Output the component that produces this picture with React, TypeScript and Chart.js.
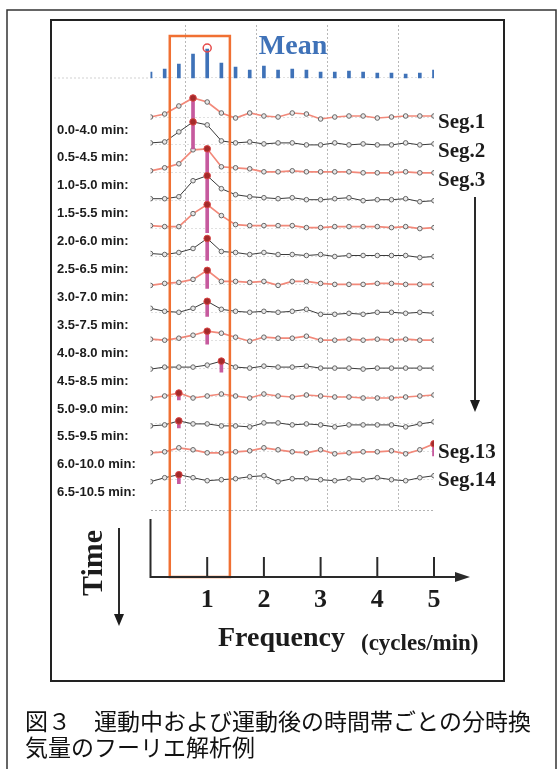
import React, { useEffect, useRef } from "react";
import { Chart, registerables } from "chart.js";

Chart.register(...registerables);

// ---------- data ----------
const FREQUENCIES = [0, 0.25, 0.5, 0.75, 1, 1.25, 1.5, 1.75, 2, 2.25, 2.5, 2.75, 3, 3.25, 3.5, 3.75, 4, 4.25, 4.5, 4.75, 5];
const MEAN_POWER = [6, 9, 14, 24, 29, 15, 11, 8, 12, 8, 9, 8, 6, 6, 7, 6, 5, 5, 4, 5, 8];

const SEG1 = [0, 3, 11, 19, 15, 4, -1, 4, 1, 0, 4, 3, -2, 0, 1, 1, -1, 0, 1, 1, 1];
const SEG2 = [2, 3, 13, 23, 20, 4, 2, 3, 1, 2, 2, 0, 0, 2, 0, 1, 0, 0, 2, 0, 1];
const SEG3 = [2, 5, 9, 23, 24, 6, 5, 4, 1, 1, 2, 1, 1, 1, 1, 0, 0, 0, 1, 0, 0];
const SEG4 = [2, 2, 4, 20, 25, 12, 6, 4, 3, 2, 3, 1, 1, 2, 3, 0, 1, 1, 2, -1, 0];
const SEG5 = [3, 2, 2, 15, 24, 13, 4, 3, 3, 3, 3, 1, 1, 2, 2, 2, 2, 1, 2, 0, 1];
const SEG6 = [3, 2, 4, 8, 18, 5, 4, 2, 4, 2, 2, 1, 2, 0, 1, 1, 1, 1, 1, -1, 0];
const SEG7 = [-1, 1, 2, 5, 14, 3, 3, 2, 3, -1, 3, 3, 1, 0, 0, 0, 1, 1, 0, 0, 0];
const SEG8 = [4, 1, 0, 4, 11, 3, 1, 0, 1, 0, 1, 3, -2, -2, -1, -2, 0, 0, -1, 0, -1];
const SEG9 = [1, 0, 2, 5, 9, 7, 3, -1, 3, 2, 2, 4, 0, 0, 1, 0, 1, 0, 1, 0, 0];
const SEG10 = [-1, 1, 1, 1, 3, 7, 1, 0, 2, 1, 1, 2, 0, 0, 0, -1, 0, 0, 0, 0, 0];
const SEG11 = [-2, 0, 3, -2, 0, 2, 0, -2, 2, 0, -1, 1, 0, -1, -1, -2, -2, -2, -1, 0, 1];
const SEG12 = [-2, -1, 3, 0, 0, -2, -2, -3, 1, 1, -1, 0, -1, -3, -1, -1, -1, -1, -3, 0, 2];
const SEG13 = [-1, 0, 4, 2, -1, -1, 0, 1, 4, 2, 0, -1, 2, -2, -1, 0, 0, 1, -2, 2, 8];
const SEG14 = [-2, 2, 5, 2, -1, 0, 1, 3, 4, -2, 1, 1, 0, -1, 1, 0, 2, 0, -1, 2, 4];
const SEGMENTS = [SEG1, SEG2, SEG3, SEG4, SEG5, SEG6, SEG7, SEG8, SEG9, SEG10, SEG11, SEG12, SEG13, SEG14];

const TIME_WINDOWS = [
  "0.0-4.0 min:", "0.5-4.5 min:", "1.0-5.0 min:", "1.5-5.5 min:", "2.0-6.0 min:",
  "2.5-6.5 min:", "3.0-7.0 min:", "3.5-7.5 min:", "4.0-8.0 min:", "4.5-8.5 min:",
  "5.0-9.0 min:", "5.5-9.5 min:", "6.0-10.0 min:", "6.5-10.5 min:",
];
const SEG_LABEL_ROWS = [0, 1, 2, 12, 13];
const SEG_LABEL_TEXT = ["Seg.1", "Seg.2", "Seg.3", "Seg.13", "Seg.14"];
const SEG_LABEL_DY = [6, 7, 8, 1, 1];
const FREQ_TICKS = [1, 2, 3, 4, 5];
const HIGHLIGHT_BAND = [0.34, 1.4];
const TITLE = "Mean";
const X_TITLE = "Frequency";
const X_UNIT = "(cycles/min)";
const Y_TITLE = "Time";
const CAPTION_1 = "図３　運動中および運動後の時間帯ごとの分時換";
const CAPTION_2 = "気量のフーリエ解析例";

// ---------- layout (offsets of the waterfall) ----------
const FIRST_ROW = 393;
const ROW_GAP = 27.9;
const MEAN_BASE = 432;
const STEM_DROP = 4;

const ORANGE_LINE = "#f2897a";
const DARK_LINE = "#3a3a3a";
const STEM = "#c65a9e";
const BLUE = "#3f72b8";
const BOX = "#f07033";
const INK = "#1c1c1c";

const rowBase = (i: number) => FIRST_ROW - ROW_GAP * i;
const argMax = (a: number[]) => a.reduce((best, v, j) => (v > a[best] ? j : best), 0);

function arrowDown(ctx: CanvasRenderingContext2D, x: number, y0: number, y1: number) {
  ctx.beginPath();
  ctx.moveTo(x, y0);
  ctx.lineTo(x, y1 - 10);
  ctx.stroke();
  ctx.beginPath();
  ctx.moveTo(x - 5, y1 - 12);
  ctx.lineTo(x + 5, y1 - 12);
  ctx.lineTo(x, y1);
  ctx.closePath();
  ctx.fill();
}

const decorPlugin = {
  id: "decor",
  afterDraw(chart: any) {
    const ctx: CanvasRenderingContext2D = chart.ctx;
    const xs = chart.scales.x;
    const ys = chart.scales.y;
    ctx.save();

    // frames
    ctx.strokeStyle = "#333";
    ctx.lineWidth = 1.5;
    ctx.beginPath();
    ctx.moveTo(7, 775);
    ctx.lineTo(7, 10);
    ctx.lineTo(556, 10);
    ctx.lineTo(556, 775);
    ctx.stroke();
    ctx.lineWidth = 2;
    ctx.strokeStyle = "#222";
    ctx.strokeRect(51, 20, 453, 661);

    // dotted baseline of the mean spectrum, extended to the left
    ctx.save();
    ctx.strokeStyle = "rgba(0,0,0,0.18)";
    ctx.lineWidth = 1;
    ctx.setLineDash([2, 2]);
    const mb = ys.getPixelForValue(MEAN_BASE);
    ctx.beginPath();
    ctx.moveTo(54, mb);
    ctx.lineTo(xs.getPixelForValue(0), mb);
    ctx.stroke();
    ctx.restore();

    // highlight box
    const bx0 = xs.getPixelForValue(HIGHLIGHT_BAND[0]);
    const bx1 = xs.getPixelForValue(HIGHLIGHT_BAND[1]);
    ctx.strokeStyle = BOX;
    ctx.lineWidth = 2.5;
    ctx.strokeRect(bx0, 36, bx1 - bx0, 577 - 36);

    // frequency axis
    const x0 = xs.getPixelForValue(0);
    ctx.strokeStyle = "#2a2a2a";
    ctx.fillStyle = "#2a2a2a";
    ctx.lineWidth = 2;
    ctx.beginPath();
    ctx.moveTo(x0, 519);
    ctx.lineTo(x0, 577);
    ctx.lineTo(458, 577);
    ctx.stroke();
    ctx.beginPath();
    ctx.moveTo(455, 572);
    ctx.lineTo(470, 577);
    ctx.lineTo(455, 582);
    ctx.closePath();
    ctx.fill();
    ctx.font = 'bold 26px "Liberation Serif", serif';
    ctx.textAlign = "center";
    ctx.textBaseline = "alphabetic";
    ctx.fillStyle = INK;
    FREQ_TICKS.forEach((f) => {
      const px = xs.getPixelForValue(f);
      ctx.beginPath();
      ctx.moveTo(px, 557);
      ctx.lineTo(px, 577);
      ctx.stroke();
      ctx.fillText(String(f), px, 607);
    });
    ctx.textAlign = "left";
    ctx.font = 'bold 28px "Liberation Serif", serif';
    ctx.fillText(X_TITLE, 218, 646);
    ctx.font = 'bold 23px "Liberation Serif", serif';
    ctx.fillText(X_UNIT, 361, 650);

    // Time label + arrow
    ctx.save();
    ctx.translate(94, 563);
    ctx.rotate(-Math.PI / 2);
    ctx.font = 'bold 30px "Liberation Serif", serif';
    ctx.textAlign = "center";
    ctx.textBaseline = "middle";
    ctx.fillText(Y_TITLE, 0, 0);
    ctx.restore();
    ctx.lineWidth = 2;
    arrowDown(ctx, 119, 528, 626);
    arrowDown(ctx, 475, 197, 412);

    // Mean title
    ctx.fillStyle = BLUE;
    ctx.font = 'bold 28px "Liberation Serif", serif';
    ctx.textAlign = "center";
    ctx.textBaseline = "middle";
    ctx.fillText(TITLE, 293, 47);

    // time window labels
    ctx.fillStyle = INK;
    ctx.textAlign = "left";
    ctx.font = 'bold 13px "Liberation Sans", Arial, sans-serif';
    TIME_WINDOWS.forEach((t, i) => {
      ctx.fillText(t, 57, ys.getPixelForValue(rowBase(i)) + 13);
    });

    // segment labels
    ctx.font = 'bold 21px "Liberation Serif", serif';
    SEG_LABEL_ROWS.forEach((r, k) => {
      ctx.fillText(SEG_LABEL_TEXT[k], 438, ys.getPixelForValue(rowBase(r)) + SEG_LABEL_DY[k]);
    });

    // caption
    ctx.font = '400 23px "Noto Sans CJK JP", sans-serif';
    ctx.fillStyle = "#111";
    ctx.fillText(CAPTION_1, 25, 721);
    ctx.fillText(CAPTION_2, 25, 747);

    ctx.restore();
  },
};

export default function App() {
  const ref = useRef<HTMLCanvasElement | null>(null);

  useEffect(() => {
    if (!ref.current) return;
    const lineSets = SEGMENTS.map((seg, i) => ({
      type: "line" as const,
      data: FREQUENCIES.map((f, j) => ({ x: f, y: rowBase(i) + seg[j] })),
      borderColor: i % 2 === 0 ? ORANGE_LINE : DARK_LINE,
      borderWidth: i % 2 === 0 ? 1.7 : 1,
      pointRadius: 2.3,
      pointBorderWidth: 1,
      pointBorderColor: "#666",
      pointBackgroundColor: "#e8e8e8",
      tension: 0,
      order: 6,
    }));
    const stems = {
      type: "bar" as const,
      data: SEGMENTS.map((seg, i) => {
        const k = argMax(seg);
        return { x: FREQUENCIES[k], y: [rowBase(i) - STEM_DROP, rowBase(i) + seg[k]] };
      }),
      backgroundColor: STEM,
      barThickness: 3,
      grouped: false,
      order: 5,
    };
    const peaks = {
      type: "scatter" as const,
      data: SEGMENTS.map((seg, i) => {
        const k = argMax(seg);
        return { x: FREQUENCIES[k], y: rowBase(i) + seg[k] };
      }),
      pointRadius: 3.3,
      pointBackgroundColor: "#a32a2a",
      pointBorderColor: "#d94545",
      pointBorderWidth: 1,
      showLine: false,
      order: 4,
    };
    const meanBars = {
      type: "bar" as const,
      data: FREQUENCIES.map((f, j) => ({ x: f, y: [MEAN_BASE, MEAN_BASE + MEAN_POWER[j]] })),
      backgroundColor: BLUE,
      barThickness: 3,
      grouped: false,
      order: 5,
    };
    const mk = argMax(MEAN_POWER);
    const meanPeak = {
      type: "scatter" as const,
      data: [{ x: FREQUENCIES[mk], y: MEAN_BASE + MEAN_POWER[mk] + 1 }],
      pointRadius: 4,
      pointBackgroundColor: "rgba(0,0,0,0)",
      pointBorderColor: "#e54b4b",
      pointBorderWidth: 1.5,
      showLine: false,
      order: 3,
    };

    const yTicks = [0, ...SEGMENTS.map((_, i) => rowBase(i)), MEAN_BASE];

    const chart = new Chart(ref.current, {
      type: "line",
      data: { datasets: [...lineSets, stems, peaks, meanBars, meanPeak] as any },
      options: {
        animation: false,
        responsive: false,
        events: [],
        layout: { padding: { left: 150.5, right: 126, top: 25, bottom: 259 } },
        plugins: { legend: { display: false }, tooltip: { enabled: false } },
        scales: {
          x: {
            type: "linear",
            min: 0,
            max: 5,
            offset: false,
            ticks: { display: false, stepSize: 1.25 },
            grid: { color: "rgba(0,0,0,0.28)", drawTicks: false, lineWidth: 1 },
            border: { display: false, dash: [2, 2] },
          },
          y: {
            type: "linear",
            min: 0,
            max: 485,
            ticks: { display: false },
            afterBuildTicks: (scale: any) => {
              scale.ticks = yTicks.map((v) => ({ value: v }));
            },
            grid: {
              color: (c: any) => (c.tick && c.tick.value === 0 ? "rgba(0,0,0,0.3)" : "rgba(0,0,0,0.12)"),
              drawTicks: false,
              lineWidth: 1,
            },
            border: { display: false, dash: [2, 2] },
          },
        },
      } as any,
      plugins: [decorPlugin],
    });
    return () => chart.destroy();
  }, []);

  return (
    <div style={{ position: "absolute", left: 0, top: 0, width: 560, height: 769, background: "#fff" }}>
      <canvas ref={ref} width={560} height={769} style={{ display: "block" }} />
    </div>
  );
}
